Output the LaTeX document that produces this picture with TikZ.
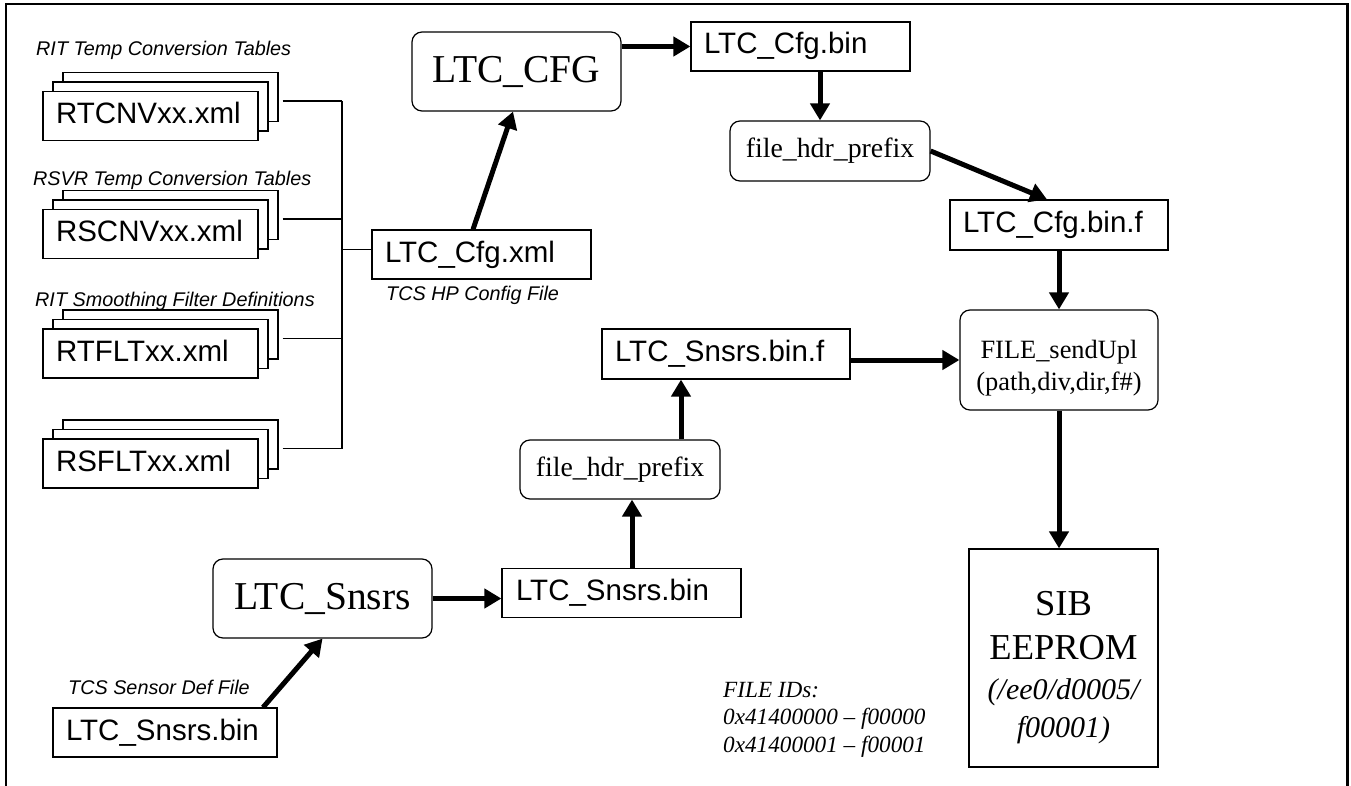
\documentclass[tikz,border=0pt]{standalone}
\usepackage{fontspec}
\setmainfont{Liberation Serif}
\setsansfont{Liberation Sans}
\usetikzlibrary{arrows.meta}

\begin{document}
\begin{tikzpicture}[x=1pt, y=-1pt,
  filebox/.style={draw, line width=1.2pt, fill=white, text width=#1, align=left,
    inner xsep=13pt, inner ysep=0pt, minimum height=49pt, text height=21pt, text depth=6pt,
    font=\sffamily\fontsize{29.5}{34}\selectfont},
  procbox/.style={draw, line width=1.2pt, rounded corners=10pt, inner sep=0pt, align=center},
  tag/.style={anchor=base west, inner sep=0pt, font=\sffamily\itshape\fontsize{19.8}{24}\selectfont},
  flow/.style={line width=5pt, -{Triangle[length=17pt,width=19pt]}},
  link/.style={line width=1.5pt}]

\useasboundingbox (0,0) rectangle (1351,786);
\draw[line width=2.5pt] (6,786) -- (6,4) -- (1347.5,4) -- (1347.5,786);

%%% XML TABLES

\coordinate (busx) at (342,0);

\foreach \n/\y/\t in {rtcnv/116/RTCNVxx.xml, rscnv/234/RSCNVxx.xml, rtflt/353.5/RTFLTxx.xml, rsflt/463.5/RSFLTxx.xml} {
	\node[filebox=189pt] (\n-c) at (170.5,\y-19) {};
	\node[filebox=189pt] (\n-b) at (160.5,\y-9.5) {};
	\node[filebox=189pt] (\n) at (150.5,\y) {\t};
	\draw[link] ([xshift=4pt,yshift=-4pt]\n-c.east) -- ([yshift=-4pt]\n-c.east -| busx);
}

\node[tag] (rittag) at (36,56) {RIT Temp Conversion Tables};
\node[tag] (rsvrtag) at (33,186) {RSVR Temp Conversion Tables};
\node[tag] (flttag) at (35,306) {RIT Smoothing Filter Definitions};

\draw[link] ([yshift=-4pt]rtcnv-c.east -| busx) -- ([yshift=-4pt]rsflt-c.east -| busx);

%%% CONFIG

\node[filebox=193pt] (cfgxml) at (481.5,254.5) {LTC\_Cfg.xml};
\node[tag] (cfgtag) at (386,300) {TCS HP Config File};
\draw[link] ([yshift=5pt]cfgxml.west -| busx) -- ([yshift=5pt]cfgxml.west);

\node[procbox, minimum width=209pt, minimum height=79pt, font=\fontsize{39.5}{44}\selectfont] (ltccfg) at (516.5,71.5) {LTC\_CFG};
\node[filebox=193pt] (cfgbin) at (800.5,46.5) {LTC\_Cfg.bin};
\node[procbox, minimum width=200pt, minimum height=60pt, font=\fontsize{27.8}{32}\selectfont] (hdra) at (830,151) {file\_hdr\_prefix};
\node[filebox=192pt, minimum height=50pt] (cfgbinf) at (1059,225) {LTC\_Cfg.bin.f};

%%% SENSORS

\node[filebox=198pt] (snsrsdef) at (165,732.5) {LTC\_Snsrs.bin};
\node[tag] (snsrstag) at (68,694) {TCS Sensor Def File};
\node[procbox, minimum width=219pt, minimum height=79pt, font=\fontsize{39.5}{44}\selectfont] (ltcsnsrs) at (322.5,598.5) {LTC\_Snsrs};
\node[filebox=211pt, inner xsep=14pt] (snsrsbin) at (621.5,593) {LTC\_Snsrs.bin};
\node[procbox, minimum width=200pt, minimum height=59pt, font=\fontsize{27.8}{32}\selectfont] (hdrb) at (620,469.5) {file\_hdr\_prefix};
\node[filebox=222pt, minimum height=50pt] (snsrsbinf) at (726,354) {LTC\_Snsrs.bin.f};

%%% UPLOAD

\node[procbox, minimum width=198pt, minimum height=100pt, font=\fontsize{26.4}{32}\selectfont] (sendupl) at (1059,360) {\rule{0pt}{34pt}FILE\_sendUpl\\(path,div,dir,f\#)};
\node[draw, line width=1.2pt, minimum width=189pt, minimum height=218pt, inner sep=0pt, align=center, font=\fontsize{36.5}{44}\selectfont] (sib) at (1063.5,658)
	{\rule{0pt}{43pt}SIB\\EEPROM\\[-4pt]\fontsize{30}{37}\selectfont\itshape (/ee0/d0005/\\[-6pt]\fontsize{30}{37}\selectfont\itshape f00001)};

\node[anchor=north west, inner sep=0pt, align=left, font=\itshape\fontsize{23.2}{27.5}\selectfont] (fileids) at (723,682)
	{FILE IDs:\\0x41400000 \textendash\ f00000\\0x41400001 \textendash\ f00001};

%%% ARROWS

\draw[flow] ([xshift=-8.5pt]cfgxml.north) -- ([xshift=-3.5pt]ltccfg.south);
\draw[flow] (ltccfg.east |- cfgbin) -- (cfgbin.west);
\draw[flow] ([xshift=-10pt]hdra.north |- cfgbin.south) -- ([xshift=-10pt]hdra.north);
\draw[flow] (hdra.east) -- ([xshift=-12pt]cfgbinf.north);
\draw[flow] (cfgbinf.south) -- (sendupl.north);
\draw[flow] (snsrsbinf.east |- sendupl) -- (sendupl.west);
\draw[flow] (sendupl.south) -- (sendupl.south |- sib.north);

\draw[flow] ([xshift=98pt]snsrsdef.north) -- (ltcsnsrs.south);
\draw[flow] (ltcsnsrs.east) -- (ltcsnsrs.east -| snsrsbin.west);
\draw[flow] ([xshift=10.5pt]snsrsbin.north) -- ([xshift=10.5pt]snsrsbin.north |- hdrb.south);
\draw[flow] ([xshift=61pt]hdrb.north) -- ([xshift=61pt]hdrb.north |- snsrsbinf.south);

\end{tikzpicture}
\end{document}
